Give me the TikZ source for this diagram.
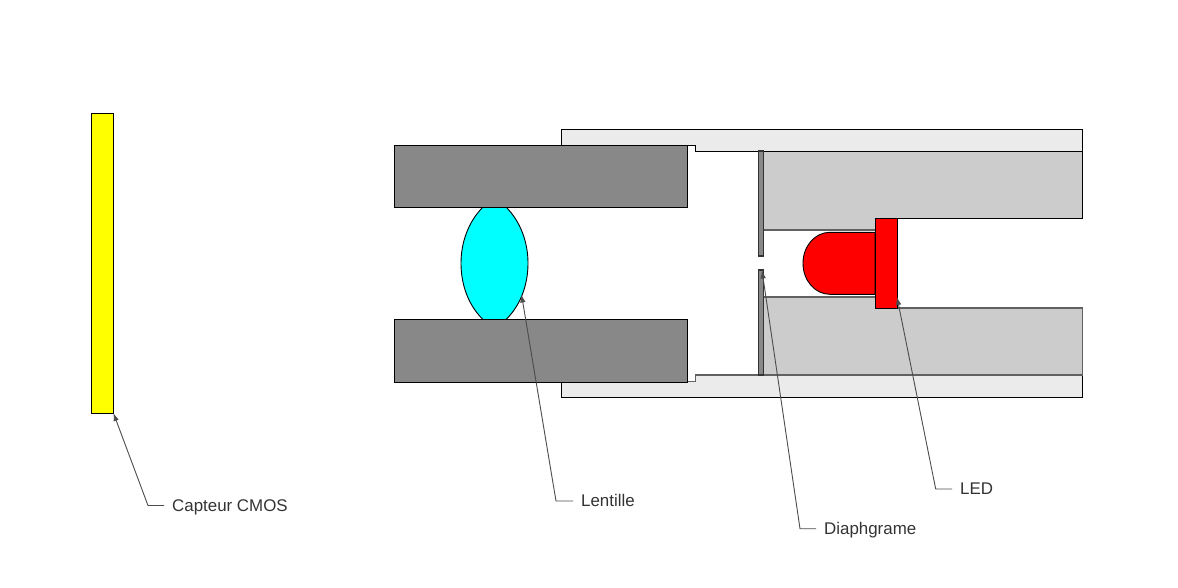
\documentclass[tikz,border=0pt]{standalone}
\usepackage{fontspec}
\setmainfont{Liberation Sans}
\usetikzlibrary{arrows.meta}

\begin{document}
\begin{tikzpicture}[
  x=1pt, y=-1pt,
  part/.style={draw=black, line width=0.9pt, inner sep=0pt, outer sep=0pt},
  edge/.style={draw=black!62, line width=1.2pt},
  leader/.style={-{Latex[length=8pt,width=5.5pt]}, line width=0.9pt, draw=black!70},
  label/.style={font=\fontsize{16.9}{18}\selectfont, text=black!80, anchor=west, inner xsep=8pt, inner ysep=0pt,
    text height=11.8pt, text depth=0pt}
]
\definecolor{TubeGrey}{HTML}{EBEBEB}
\definecolor{BlockGrey}{HTML}{CCCCCC}
\definecolor{HolderGrey}{HTML}{888888}
\definecolor{SensorYellow}{RGB}{255,255,0}
\definecolor{LensCyan}{RGB}{0,255,255}
\definecolor{LedRed}{RGB}{255,0,0}
\useasboundingbox (0,0) rectangle (1178,587);

% LED housing
\fill[BlockGrey] (763,151) -- (1082.5,151) -- (1082.5,218) -- (875,218) -- (875,230) -- (763,230) -- cycle;
\draw[line width=0.9pt] (1082.5,151) -- (1082.5,218) -- (875,218);
\draw[edge] (763,230) -- (875,230);
\fill[BlockGrey] (763,297) -- (875,297) -- (875,308) -- (1082.5,308) -- (1082.5,375) -- (763,375) -- cycle;
\draw[edge] (763,297) -- (875,297);
\draw[edge] (897,308) -- (1082.5,308) -- (1082.5,375);

% tube
\fill[TubeGrey] (561,129) -- (1082.5,129) -- (1082.5,151) -- (695.5,151) -- (695.5,145) -- (561,145) -- cycle;
\draw[line width=0.9pt] (561,145) -- (561,129) -- (1082.5,129) -- (1082.5,151) -- (695.5,151) -- (695.5,145) -- (687,145);
\fill[TubeGrey] (561,397.5) -- (1082.5,397.5) -- (1082.5,375) -- (695.5,375) -- (695.5,381.5) -- (561,381.5) -- cycle;
\draw[line width=0.9pt] (561,381.5) -- (561,397.5) -- (1082.5,397.5) -- (1082.5,375);
\draw[edge] (687,381.5) -- (695.5,381.5) -- (695.5,375) -- (1082.5,375);

% diaphragm
\node[part, fill=HolderGrey, draw=black!80, line width=1.1pt, minimum width=5pt, minimum height=105pt] (diaTop) at (760.8,203.5) {};
\node[part, fill=HolderGrey, draw=black!80, line width=1.1pt, minimum width=5pt, minimum height=105pt] (diaBottom) at (760.8,322.5) {};

% sensor and lens holders
\node[part, fill=SensorYellow, minimum width=22pt, minimum height=300pt] (sensor) at (102.4,263) {};
\draw[fill=LensCyan, line width=0.9pt] (483,207) .. controls (468,222) and (461,243) .. (461,263.2)
  .. controls (461,284) and (468,305) .. (483,319.5) -- (506,319.5)
  .. controls (521,305) and (528,284) .. (528,263.2)
  .. controls (528,243) and (521,222) .. (506,207) -- cycle;
\node[part, fill=HolderGrey, minimum width=293pt, minimum height=62.5pt] (holderTop) at (540.6,176.2) {};
\node[part, fill=HolderGrey, minimum width=293pt, minimum height=62.5pt] (holderBottom) at (540.6,350.7) {};

% LED
\draw[fill=LedRed, line width=0.9pt] (875,232.3) -- (830,232.3) .. controls (815,232.3) and (803,246) .. (803,263.3)
  .. controls (803,280.5) and (815,294.3) .. (830,294.3) -- (875,294.3) -- cycle;
\node[part, fill=LedRed, minimum width=22pt, minimum height=90pt] (flange) at (886,263) {};

% labels
\node[label] (capteur) at (164,505.5) {Capteur CMOS};
\node[label] (lentille) at (573,501) {Lentille};
\node[label] (diaphragme) at (816,528.7) {Diaphgrame};
\node[label] (led) at (952,489) {LED};

\coordinate (kneeCapteur) at (148,505.5);
\coordinate (kneeLentille) at (556,501);
\coordinate (kneeDiaphragme) at (800,528.7);
\coordinate (kneeLed) at (935.7,489);
\coordinate (tipLentille) at (521.5,294.5);
\coordinate (tipDiaphragme) at (762,270.5);
\coordinate (tipLed) at (897,297);

\draw[leader] (capteur.west) -- (kneeCapteur) -- (sensor.south east);
\draw[leader] (lentille.west) -- (kneeLentille) -- (tipLentille);
\draw[leader] (diaphragme.west) -- (kneeDiaphragme) -- (tipDiaphragme);
\draw[leader] (led.west) -- (kneeLed) -- (tipLed);
\end{tikzpicture}
\end{document}
